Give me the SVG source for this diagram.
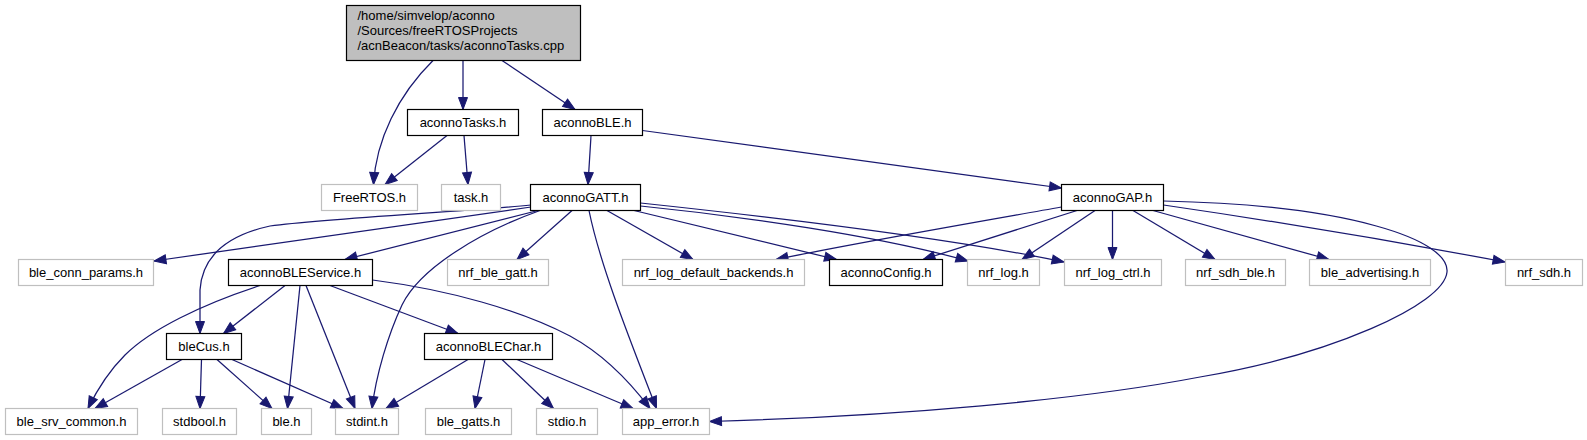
<svg xmlns="http://www.w3.org/2000/svg" width="1587" height="440" viewBox="0 0 1587 440">
<style>
.n rect{fill:#ffffff;stroke:#bfbfbf;stroke-width:1.2}
.n.d rect{stroke:#000000}
.n.r rect{fill:#bfbfbf;stroke:#000000}
.n text{font-family:"Liberation Sans",Arial,sans-serif;font-size:13px;fill:#000000;text-anchor:middle}
.n.r text{text-anchor:start}
.e path{fill:none;stroke:#191970;stroke-width:1.25;marker-end:url(#ah)}
</style>
<defs>
<marker id="ah" markerUnits="userSpaceOnUse" markerWidth="16" markerHeight="14" refX="12" refY="5" orient="auto" overflow="visible">
<path d="M0,0.5 L12,5 L0,9.5 z" fill="#191970" stroke="#191970" stroke-width="1"/>
</marker>
</defs>
<rect x="0" y="0" width="1587" height="440" fill="#ffffff"/>
<g id="edges" class="e">
<path d="M463,60.5 L463,109.5"/>
<path d="M502,60.5 L575,109.5"/>
<path d="M433,60.5 C398,95 376,140 373.5,184.5"/>
<path d="M447,135.5 L385,184.5"/>
<path d="M464,135.5 L468,184.5"/>
<path d="M591,135.5 L588,184.5"/>
<path d="M642.5,130.5 L1061.5,188"/>
<path d="M531,207 L154,261"/>
<path d="M538,210.5 L345,259.5"/>
<path d="M531,205 C460,212 330,218 270,226 C225,236 202,258 200,290 L200,333.5"/>
<path d="M572,210.5 L517,259.5"/>
<path d="M540,210.5 C480,232 420,268 402,305 C388,335 376,375 372,408.5"/>
<path d="M589,210.5 C600,265 630,340 656.5,408.5"/>
<path d="M607,210.5 L693,259.5"/>
<path d="M634,210.5 L836.5,259.5"/>
<path d="M640.5,206 C740,216 880,236 968,261"/>
<path d="M640.5,203 C800,220 960,240 1064,262"/>
<path d="M1061.5,207 C960,225 850,244 776,259.5"/>
<path d="M1077,210.5 L923,259.5"/>
<path d="M1095,210.5 L1022,259.5"/>
<path d="M1112.5,210.5 L1112.5,259.5"/>
<path d="M1133,210.5 L1215,259.5"/>
<path d="M1153,210.5 L1329,259.5"/>
<path d="M1163.5,205 C1280,222 1420,246 1505,262"/>
<path d="M1163.5,201 C1350,205 1450,240 1447,272 C1444,305 1330,355 1200,377 C1080,400 900,416 709.5,421.5"/>
<path d="M260,285.5 C200,305 150,330 125,355 C108,372 97,390 88,408.5"/>
<path d="M285,285.5 L223.5,333.5"/>
<path d="M300,285.5 L287.5,408.5"/>
<path d="M306,285.5 L355,408.5"/>
<path d="M330,285.5 L458,333.5"/>
<path d="M372.5,280 C450,290 520,310 570,336 C605,355 630,382 650,408.5"/>
<path d="M182,359.5 L95,408.5"/>
<path d="M201.5,359.5 L200,408.5"/>
<path d="M217,359.5 L272,408.5"/>
<path d="M232,359.5 L343,408.5"/>
<path d="M468,359.5 L386,408.5"/>
<path d="M485,359.5 L475,408.5"/>
<path d="M502,359.5 L553.5,408.5"/>
<path d="M517,359.5 L633,408.5"/>
</g>
<g id="nodes">
<g id="node_root" class="n r"><rect x="346.5" y="5.5" width="234" height="55"/><text x="357.5" y="20">/home/simvelop/aconno</text><text x="357.5" y="35">/Sources/freeRTOSProjects</text><text x="357.5" y="50">/acnBeacon/tasks/aconnoTasks.cpp</text></g>
<g id="node_aconnoTasks_h" class="n d"><rect x="407.5" y="109.5" width="111" height="26"/><text x="463" y="127">aconnoTasks.h</text></g>
<g id="node_aconnoBLE_h" class="n d"><rect x="542.5" y="109.5" width="100" height="26"/><text x="592.5" y="127">aconnoBLE.h</text></g>
<g id="node_FreeRTOS_h" class="n"><rect x="321.5" y="184.5" width="96" height="26"/><text x="369.5" y="202">FreeRTOS.h</text></g>
<g id="node_task_h" class="n"><rect x="441.5" y="184.5" width="59" height="26"/><text x="471" y="202">task.h</text></g>
<g id="node_aconnoGATT_h" class="n d"><rect x="530.5" y="184.5" width="110" height="26"/><text x="585.5" y="202">aconnoGATT.h</text></g>
<g id="node_aconnoGAP_h" class="n d"><rect x="1061.5" y="184.5" width="102" height="26"/><text x="1112.5" y="202">aconnoGAP.h</text></g>
<g id="node_ble_conn_params_h" class="n"><rect x="18.5" y="259.5" width="135" height="26"/><text x="86" y="277">ble_conn_params.h</text></g>
<g id="node_aconnoBLEService_h" class="n d"><rect x="228.5" y="259.5" width="144" height="26"/><text x="300.5" y="277">aconnoBLEService.h</text></g>
<g id="node_nrf_ble_gatt_h" class="n"><rect x="447.5" y="259.5" width="101" height="26"/><text x="498" y="277">nrf_ble_gatt.h</text></g>
<g id="node_nrf_log_default_backends_h" class="n"><rect x="622.5" y="259.5" width="182" height="26"/><text x="713.5" y="277">nrf_log_default_backends.h</text></g>
<g id="node_aconnoConfig_h" class="n d"><rect x="829.5" y="259.5" width="113" height="26"/><text x="886" y="277">aconnoConfig.h</text></g>
<g id="node_nrf_log_h" class="n"><rect x="967.5" y="259.5" width="72" height="26"/><text x="1003.5" y="277">nrf_log.h</text></g>
<g id="node_nrf_log_ctrl_h" class="n"><rect x="1064.5" y="259.5" width="97" height="26"/><text x="1113" y="277">nrf_log_ctrl.h</text></g>
<g id="node_nrf_sdh_ble_h" class="n"><rect x="1185.5" y="259.5" width="100" height="26"/><text x="1235.5" y="277">nrf_sdh_ble.h</text></g>
<g id="node_ble_advertising_h" class="n"><rect x="1309.5" y="259.5" width="121" height="26"/><text x="1370" y="277">ble_advertising.h</text></g>
<g id="node_nrf_sdh_h" class="n"><rect x="1505.5" y="259.5" width="77" height="26"/><text x="1544" y="277">nrf_sdh.h</text></g>
<g id="node_bleCus_h" class="n d"><rect x="166.5" y="333.5" width="75" height="26"/><text x="204" y="351">bleCus.h</text></g>
<g id="node_aconnoBLEChar_h" class="n d"><rect x="424.5" y="333.5" width="128" height="26"/><text x="488.5" y="351">aconnoBLEChar.h</text></g>
<g id="node_ble_srv_common_h" class="n"><rect x="5.5" y="408.5" width="132" height="26"/><text x="71.5" y="426">ble_srv_common.h</text></g>
<g id="node_stdbool_h" class="n"><rect x="162.5" y="408.5" width="74" height="26"/><text x="199.5" y="426">stdbool.h</text></g>
<g id="node_ble_h" class="n"><rect x="261.5" y="408.5" width="50" height="26"/><text x="286.5" y="426">ble.h</text></g>
<g id="node_stdint_h" class="n"><rect x="335.5" y="408.5" width="63" height="26"/><text x="367" y="426">stdint.h</text></g>
<g id="node_ble_gatts_h" class="n"><rect x="425.5" y="408.5" width="86" height="26"/><text x="468.5" y="426">ble_gatts.h</text></g>
<g id="node_stdio_h" class="n"><rect x="536.5" y="408.5" width="61" height="26"/><text x="567" y="426">stdio.h</text></g>
<g id="node_app_error_h" class="n"><rect x="622.5" y="408.5" width="87" height="26"/><text x="666" y="426">app_error.h</text></g>
</g>
</svg>
